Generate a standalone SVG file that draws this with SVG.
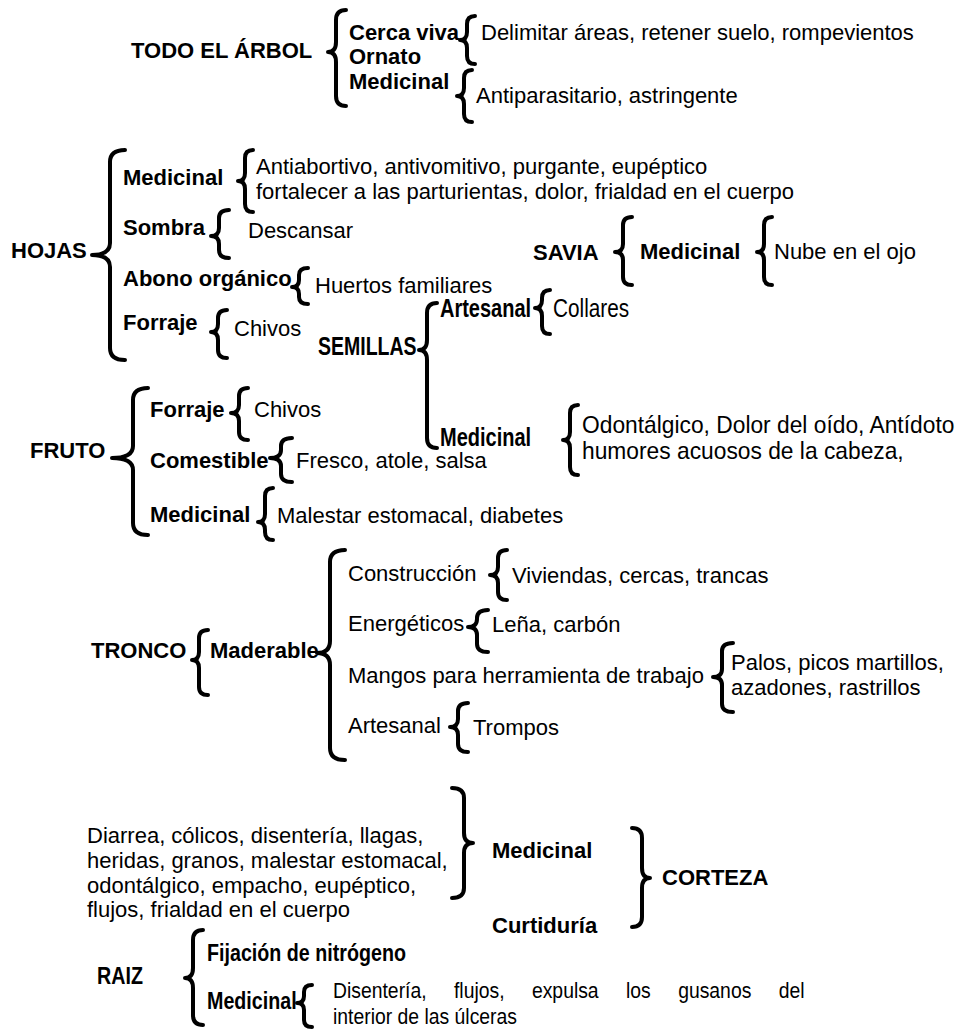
<svg xmlns="http://www.w3.org/2000/svg" width="961" height="1029" viewBox="0 0 961 1029">
<style>
.t{font-family:"Liberation Sans",Arial,sans-serif;font-size:22px;fill:#000}
.b{font-weight:bold}
.n{font-size:25px}
.s{font-size:24px}
.r{font-size:24px}
.br{fill:none;stroke:#000;stroke-width:4;stroke-linejoin:round;stroke-linecap:round}
</style>
<rect width="961" height="1029" fill="#fff"/>
<g id="connectors">
<path class="br" d="M346,10 Q336,10 336,20 V42 Q336,52 328,52 Q336,52 336,62 V96 Q336,106 346,106"/>
<path class="br" d="M475,16 Q467,16 467,24 V32 Q467,40 460,40 Q467,40 467,48 V56 Q467,64 475,64"/>
<path class="br" d="M472,70 Q464,70 464,78 V88 Q464,96 457,96 Q464,96 464,104 V114 Q464,122 472,122"/>
<path class="br" d="M125,150 Q110,150 110,162 V243 Q110,255 92,255 Q110,255 110,267 V348 Q110,360 125,360"/>
<path class="br" d="M253,150 Q245,150 245,158 V173 Q245,181 238,181 Q245,181 245,189 V204 Q245,212 253,212"/>
<path class="br" d="M229,210 Q219,210 219,218 V228 Q219,236 211,236 Q219,236 219,244 V250 Q219,258 229,258"/>
<path class="br" d="M308,268 Q299,268 299,275 V280 Q299,287 292,287 Q299,287 299,294 V297 Q299,304 308,304"/>
<path class="br" d="M227,310 Q218,310 218,318 V324 Q218,332 211,332 Q218,332 218,340 V350 Q218,358 227,358"/>
<path class="br" d="M632,217 Q623,217 623,225 V244 Q623,252 615,252 Q623,252 623,260 V277 Q623,285 632,285"/>
<path class="br" d="M772,217 Q764,217 764,225 V244 Q764,252 757,252 Q764,252 764,260 V277 Q764,285 772,285"/>
<path class="br" d="M437,303 Q427,303 427,313 V340 Q427,350 419,350 Q427,350 427,360 V438 Q427,448 437,448"/>
<path class="br" d="M550,290 Q542,290 542,298 V300 Q542,308 535,308 Q542,308 542,316 V326 Q542,334 550,334"/>
<path class="br" d="M578,405 Q570,405 570,413 V432 Q570,440 563,440 Q570,440 570,448 V467 Q570,475 578,475"/>
<path class="br" d="M148,388 Q133,388 133,400 V446 Q133,458 112,458 Q133,458 133,470 V523 Q133,535 148,535"/>
<path class="br" d="M248,388 Q239,388 239,396 V405 Q239,413 231,413 Q239,413 239,421 V432 Q239,440 248,440"/>
<path class="br" d="M292,438 Q281,438 281,446 V450 Q281,458 270,458 Q281,458 281,466 V474 Q281,482 292,482"/>
<path class="br" d="M273,488 Q265,488 265,496 V514 Q265,522 258,522 Q265,522 265,530 V532 Q265,540 273,540"/>
<path class="br" d="M208,630 Q199,630 199,638 V652 Q199,660 192,660 Q199,660 199,668 V687 Q199,695 208,695"/>
<path class="br" d="M345,550 Q330,550 330,562 V641 Q330,653 317,653 Q330,653 330,665 V748 Q330,760 345,760"/>
<path class="br" d="M507,550 Q498,550 498,558 V567 Q498,575 490,575 Q498,575 498,583 V592 Q498,600 507,600"/>
<path class="br" d="M488,610 Q477,610 477,618 V619 Q477,627 468,627 Q477,627 477,635 V644 Q477,652 488,652"/>
<path class="br" d="M733,643 Q722,643 722,651 V669 Q722,677 713,677 Q722,677 722,685 V704 Q722,712 733,712"/>
<path class="br" d="M468,703 Q458,703 458,711 V719 Q458,727 450,727 Q458,727 458,735 V744 Q458,752 468,752"/>
<path class="br" d="M452,788 Q464,788 464,798 V833 Q464,843 473,843 Q464,843 464,853 V888 Q464,898 452,898"/>
<path class="br" d="M632,828 Q642,828 642,838 V868 Q642,878 650,878 Q642,878 642,888 V917 Q642,927 632,927"/>
<path class="br" d="M203,930 Q193,930 193,940 V968 Q193,978 185,978 Q193,978 193,988 V1015 Q193,1025 203,1025"/>
<path class="br" d="M312,985 Q304,985 304,992 V996 Q304,1003 297,1003 Q304,1003 304,1010 V1020 Q304,1027 312,1027"/>
</g>
<g id="todo"><text class="t b" x="131" y="58">TODO EL ÁRBOL</text></g>
<g id="cerca"><text class="t b" x="349" y="40">Cerca viva</text></g>
<g id="cerca-uso"><text class="t" x="481" y="40">Delimitar áreas, retener suelo, rompevientos</text></g>
<g id="ornato"><text class="t b" x="349" y="64">Ornato</text></g>
<g id="todo-med"><text class="t b" x="349" y="89">Medicinal</text></g>
<g id="todo-med-uso"><text class="t" x="476" y="103">Antiparasitario, astringente</text></g>

<g id="hojas"><text class="t b" x="11" y="258">HOJAS</text></g>
<g id="hojas-med"><text class="t b" x="123" y="185">Medicinal</text></g>
<g id="hojas-med-uso"><text class="t" x="256" y="174">Antiabortivo, antivomitivo, purgante, eupéptico</text><text class="t" x="256" y="199">fortalecer a las parturientas, dolor, frialdad en el cuerpo</text></g>
<g id="sombra"><text class="t b" x="123" y="235">Sombra</text></g>
<g id="sombra-uso"><text class="t" x="248" y="238">Descansar</text></g>
<g id="abono"><text class="t b" x="123" y="286">Abono orgánico</text></g>
<g id="abono-uso"><text class="t" x="315" y="293">Huertos familiares</text></g>
<g id="hojas-forraje"><text class="t b" x="123" y="330">Forraje</text></g>
<g id="hojas-forraje-uso"><text class="t" x="234" y="336">Chivos</text></g>

<g id="savia"><text class="t b" x="533" y="260">SAVIA</text></g>
<g id="savia-med"><text class="t b" x="640" y="259">Medicinal</text></g>
<g id="savia-med-uso"><text class="t" x="774" y="259">Nube en el ojo</text></g>

<g id="semillas"><text class="t b n" transform="translate(318 355) scale(0.78 1)">SEMILLAS</text></g>
<g id="sem-art"><text class="t b n" transform="translate(440 317) scale(0.8 1)">Artesanal</text></g>
<g id="sem-art-uso"><text class="t n" transform="translate(553 317) scale(0.83 1)">Collares</text></g>
<g id="sem-med"><text class="t b n" transform="translate(440 446) scale(0.8 1)">Medicinal</text></g>
<g id="sem-med-uso"><text class="t s" transform="translate(582 433) scale(0.95 1)">Odontálgico, Dolor del oído, Antídoto</text><text class="t s" transform="translate(582 459) scale(0.95 1)">humores acuosos de la cabeza,</text></g>

<g id="fruto"><text class="t b" x="30" y="458">FRUTO</text></g>
<g id="fruto-forraje"><text class="t b" x="150" y="417">Forraje</text></g>
<g id="fruto-forraje-uso"><text class="t" x="254" y="417">Chivos</text></g>
<g id="comestible"><text class="t b" x="150" y="468">Comestible</text></g>
<g id="comestible-uso"><text class="t" x="296" y="468">Fresco, atole, salsa</text></g>
<g id="fruto-med"><text class="t b" x="150" y="522">Medicinal</text></g>
<g id="fruto-med-uso"><text class="t" x="277" y="523">Malestar estomacal, diabetes</text></g>

<g id="tronco"><text class="t b" x="91" y="658">TRONCO</text></g>
<g id="maderable"><text class="t b" x="210" y="658">Maderable</text></g>
<g id="construccion"><text class="t" x="348" y="581">Construcción</text></g>
<g id="construccion-uso"><text class="t" x="512" y="583">Viviendas, cercas, trancas</text></g>
<g id="energeticos"><text class="t" x="348" y="631">Energéticos</text></g>
<g id="energeticos-uso"><text class="t" x="492" y="632">Leña, carbón</text></g>
<g id="mangos"><text class="t" x="348" y="683">Mangos para herramienta de trabajo</text></g>
<g id="mangos-uso"><text class="t" x="731" y="670">Palos, picos martillos,</text><text class="t" x="731" y="695">azadones, rastrillos</text></g>
<g id="tronco-art"><text class="t" x="348" y="733">Artesanal</text></g>
<g id="tronco-art-uso"><text class="t" x="473" y="735">Trompos</text></g>

<g id="corteza-med-uso"><text class="t" x="87" y="843">Diarrea, cólicos, disentería, llagas,</text><text class="t" x="87" y="868">heridas, granos, malestar estomacal,</text><text class="t" x="87" y="893">odontálgico, empacho, eupéptico,</text><text class="t" x="87" y="917">flujos, frialdad en el cuerpo</text></g>
<g id="corteza-med"><text class="t b" x="492" y="858">Medicinal</text></g>
<g id="curtiduria"><text class="t b" x="492" y="933">Curtiduría</text></g>
<g id="corteza"><text class="t b" x="662" y="885">CORTEZA</text></g>

<g id="raiz"><text class="t b r" transform="translate(97 984) scale(0.82 1)">RAIZ</text></g>
<g id="fijacion"><text class="t b r" transform="translate(207 961) scale(0.82 1)">Fijación de nitrógeno</text></g>
<g id="raiz-med"><text class="t b r" transform="translate(207 1009) scale(0.82 1)">Medicinal</text></g>
<g id="raiz-med-uso"><text class="t" transform="translate(333 998) scale(0.88 1)" word-spacing="25">Disentería, flujos, expulsa los gusanos del</text><text class="t" transform="translate(333 1024) scale(0.88 1)">interior de las úlceras</text></g>
</svg>
